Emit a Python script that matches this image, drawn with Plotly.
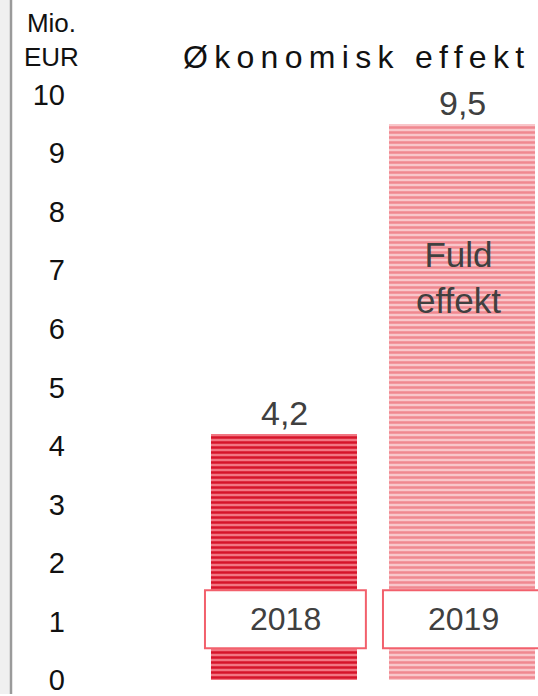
import plotly.graph_objects as go

# ---- data ----
years = ["2018", "2019"]
values = [4.2, 9.5]
y_ticks = [0, 1, 2, 3, 4, 5, 6, 7, 8, 9, 10]
title_text = "Økonomisk effekt"
unit_text = "Mio.<br>EUR"
inner_text = "Fuld<br>effekt"

# ---- style ----
W, H = 538, 696
ML = 66
fg_cols = ["#d6142a", "#f08890"]
bg_cols = ["#f27682", "#f9c6ca"]
txt_col = "#404040"
font_fam = "Liberation Sans, Arial, sans-serif"

def px_x(p):
    return (p - ML) / (W - ML)

def px_y(p):
    return 1 - p / H

fig = go.Figure()
for i, (yr, v) in enumerate(zip(years, values)):
    fig.add_trace(go.Bar(
        x=[yr], y=[v], width=0.82,
        marker=dict(
            color=fg_cols[i],
            line=dict(width=0),
            pattern=dict(shape="-", size=5, solidity=0.5,
                         fgcolor=fg_cols[i], bgcolor=bg_cols[i],
                         fillmode="replace"),
        ),
        hoverinfo="skip", showlegend=False,
    ))

annotations = []
shapes = []
for i, (yr, v) in enumerate(zip(years, values)):
    annotations.append(dict(
        x=i, y=v, xref="x", yref="y", text=f"{v:.1f}".replace(".", ","),
        showarrow=False, yanchor="bottom", yshift=0,
        font=dict(size=34, color=txt_col, family=font_fam)))
    shapes.append(dict(
        type="rect", xref="x", yref="y",
        x0=i + 0.008 - 0.452, x1=i + 0.008 + 0.452, y0=0.545, y1=1.533,
        fillcolor="white", line=dict(color="#f2606c", width=2), layer="above"))
    annotations.append(dict(
        x=i + 0.008, y=1.04, xref="x", yref="y", text=yr,
        showarrow=False, yanchor="middle",
        font=dict(size=32, color=txt_col, family=font_fam)))

annotations.append(dict(
    x=1, y=6.87, xref="x", yref="y", text=inner_text, xshift=-4,
    showarrow=False, yanchor="middle",
    font=dict(size=35, color=txt_col, family=font_fam)))

annotations.append(dict(
    x=px_x(356), y=px_y(57), xref="paper", yref="paper",
    text=f'<span style="letter-spacing:6.3px">{title_text}</span>',
    showarrow=False, xanchor="center", yanchor="middle",
    font=dict(size=32, color="#111111", family=font_fam)))

annotations.append(dict(
    x=px_x(51), y=px_y(40), xref="paper", yref="paper",
    text=unit_text, showarrow=False, xanchor="center", yanchor="middle",
    font=dict(size=26, color="#111111", family=font_fam)))

# left strip
shapes.append(dict(type="rect", xref="paper", yref="paper",
                   x0=px_x(0), x1=px_x(10), y0=0, y1=1,
                   fillcolor="#f0f0f0", line=dict(width=0), layer="below"))
shapes.append(dict(type="line", xref="paper", yref="paper",
                   x0=px_x(11), x1=px_x(11), y0=0, y1=1,
                   line=dict(color="#9a9a9a", width=2.5)))

unit = 58.7
ymin = -(H - 682) / unit
ymax = ymin + H / unit
xmin = -(284 - ML) / 178
xmax = xmin + (W - ML) / 178

fig.update_layout(
    width=W, height=H,
    margin=dict(l=ML, r=0, t=0, b=0, pad=0),
    paper_bgcolor="white", plot_bgcolor="white",
    bargap=0,
    xaxis=dict(type="category", range=[xmin, xmax], showticklabels=False,
               showgrid=False, zeroline=False, showline=False, ticks=""),
    yaxis=dict(range=[ymin, ymax], tickvals=y_ticks,
               ticktext=[str(t) for t in y_ticks],
               ticklabeloverflow="allow",
               showgrid=False, zeroline=False, showline=False, ticks="",
               tickfont=dict(size=29, color="#111111", family=font_fam)),
    annotations=annotations, shapes=shapes,
    font=dict(family=font_fam),
)

fig.write_html("out.html", config={"displayModeBar": False},
               post_script="document.body.style.margin='0';document.body.style.overflow='hidden';")
